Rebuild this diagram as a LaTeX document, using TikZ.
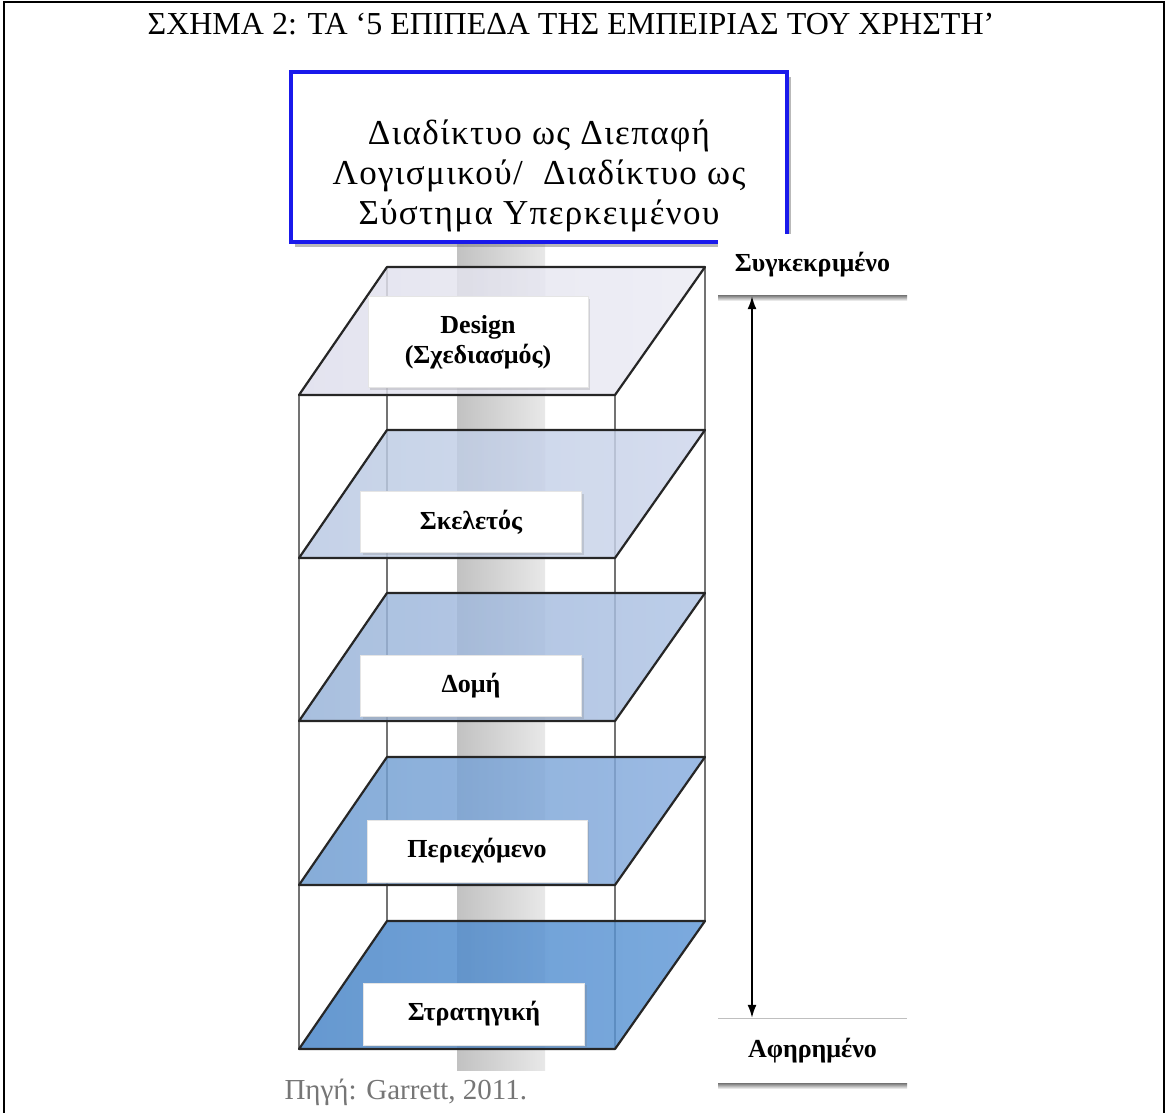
\documentclass[tikz,border=0pt]{standalone}
\usepackage{fontspec}
\setmainfont{Liberation Serif}
\usetikzlibrary{shadows,arrows.meta}
\definecolor{boxblue}{RGB}{25,25,235}
\definecolor{srcgray}{RGB}{118,118,118}
\definecolor{layA}{RGB}{222,222,236}
\definecolor{layAr}{RGB}{236,236,244}
\definecolor{layB}{RGB}{184,200,226}
\definecolor{layBr}{RGB}{205,214,236}
\definecolor{layC}{RGB}{150,178,216}
\definecolor{layCr}{RGB}{175,195,228}
\definecolor{layD}{RGB}{108,155,208}
\definecolor{layDr}{RGB}{135,172,222}
\definecolor{layE}{RGB}{68,130,198}
\definecolor{layEr}{RGB}{95,152,215}
\begin{document}
\begin{tikzpicture}[x=1pt,y=-1pt,
  lbl/.style={fill=white, draw=black!10, inner sep=0pt, align=center,
    drop shadow={opacity=0.25, shadow xshift=2pt, shadow yshift=-2pt},
    font=\fontsize{26}{31}\bfseries\selectfont},
  sidelbl/.style={fill=white, inner sep=0pt, minimum width=189, minimum height=62,
    font=\fontsize{26}{30}\bfseries\selectfont},
  topbox/.style={fill=white, draw=boxblue, line width=3.5pt, inner sep=0pt,
    minimum width=496, minimum height=170,
    drop shadow={opacity=0.55, shadow xshift=4pt, shadow yshift=-5pt}},
  toptext/.style={align=center, inner sep=0pt,
    font=\fontsize{35}{40}\selectfont\addfontfeatures{LetterSpace=4}},
  edge/.style={line width=2.2pt, black!85, line join=round},
  vert/.style={line width=1.1pt, black!55},
  ann/.style={line width=1.6pt, {Latex[length=13pt,width=9pt]}-{Latex[length=13pt,width=9pt]}}
]
\useasboundingbox (0,0) rectangle (1168,1113);
\fill[white] (0,0) rectangle (1168,1113);
% outer frame (open at the bottom)
\draw[line width=2pt] (4,1113) -- (4,2) -- (1164,2) -- (1164,1113);

% title
\node[anchor=base, font=\fontsize{32}{36}\selectfont] (title) at (571,35)
  {ΣΧΗΜΑ 2: ΤΑ ‘5 ΕΠΙΠΕΔΑ ΤΗΣ ΕΜΠΕΙΡΙΑΣ ΤΟΥ ΧΡΗΣΤΗ’};

% central pole
\shade[left color=black!24, right color=black!9] (457,243) rectangle (545,1070);

% back vertical edges
\draw[vert] (387,267) -- (387,921);
\draw[vert] (705,267) -- (705,921);
% front vertical edges
\draw[vert] (299,395) -- (299,1049);
\draw[vert] (615,395) -- (615,1049);

% layers
\foreach \yt/\cl/\cr in {267/layA/layAr, 430/layB/layBr, 593/layC/layCr, 757/layD/layDr, 921/layE/layEr}{
  \pgfmathsetmacro{\yb}{\yt+128}
  \shade[left color=\cl, right color=\cr, opacity=0.82]
    (299,\yb) -- (615,\yb) -- (705,\yt) -- (387,\yt) -- cycle;
  \draw[edge] (299,\yb) -- (615,\yb) -- (705,\yt) -- (387,\yt) -- cycle;
}

% layer labels
\node[lbl, minimum width=220, minimum height=91] (design) at (478,342)
  {Design\\[-1pt](Σχεδιασμός)};
\node[lbl, minimum width=221, minimum height=61] (skel) at (471,522) {Σκελετός};
\node[lbl, minimum width=221, minimum height=61] (struct) at (471,686) {Δομή};
\node[lbl, minimum width=220, minimum height=62] (content) at (477,851) {Περιεχόμενο};
\node[lbl, minimum width=221, minimum height=62] (strategy) at (474,1014) {Στρατηγική};

% top box
\node[topbox] (web) at (539,157) {};
\node[toptext] (webtxt) at (539,176)
  {Διαδίκτυο ως Διεπαφή\\Λογισμικού/\ \ Διαδίκτυο ως\\Σύστημα Υπερκειμένου};

% right-hand scale
\node[sidelbl] (concrete) at (812.5,265) {Συγκεκριμένο};
\shade[top color=black!55, bottom color=white] (718,295) rectangle (907,301);
\node[sidelbl, minimum height=66] (abstract) at (812.5,1051) {Αφηρημένο};
\draw[black!25, line width=0.8pt] (718,1018) -- (907,1018);
\shade[top color=black!55, bottom color=white] (718,1083) rectangle (907,1089);
\coordinate (ax) at (752,0);
\draw[ann] (concrete.south -| ax) -- (abstract.north -| ax);

% source
\node[anchor=base west, text=srcgray, font=\fontsize{29}{33}\selectfont] (src) at (281,1099)
  {Πηγή: Garrett, 2011.};
\end{tikzpicture}
\end{document}
